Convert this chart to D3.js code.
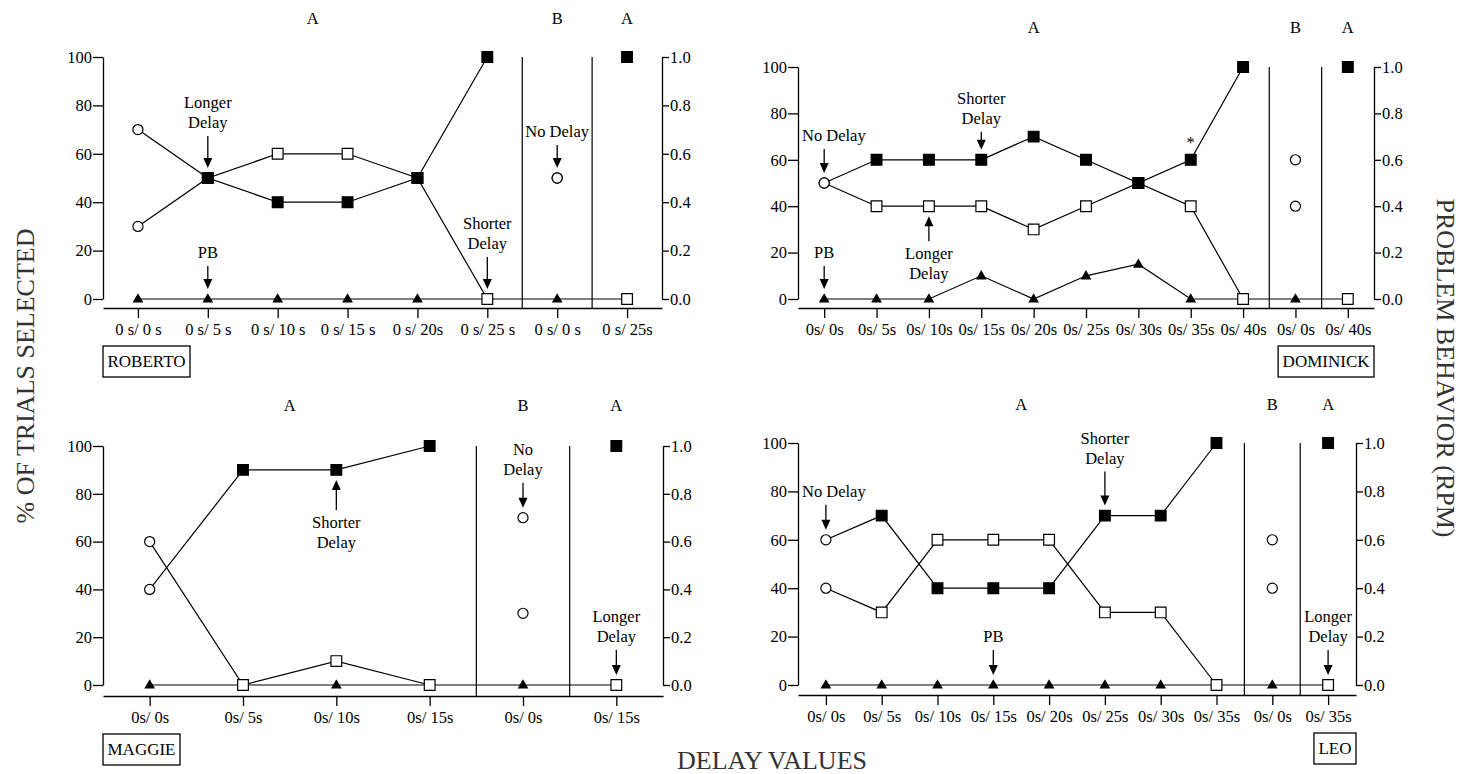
<!DOCTYPE html>
<html>
<head>
<meta charset="utf-8">
<script src="https://cdn.jsdelivr.net/npm/d3@7"></script>
<style>
  html, body { margin: 0; padding: 0; background: #fff; }
  svg { display: block; font-family: "Liberation Serif", "Times New Roman", serif; }
</style>
</head>
<body>
<svg id="chart" width="1465" height="774"></svg>
<script>
// ---- Roberto ----
const robertoDelays  = ["0 s/ 0 s", "0 s/ 5 s", "0 s/ 10 s", "0 s/ 15 s", "0 s/ 20s", "0 s/ 25 s", "0 s/ 0 s", "0 s/ 25s"];
const robertoPhases  = ["A", "A", "A", "A", "A", "A", "B", "A"];
const robertoShorter = [30, 50, 40, 40, 50, 100, 50, 100];
const robertoLonger  = [70, 50, 60, 60, 50, 0, 50, 0];
const robertoPB      = [0, 0, 0, 0, 0, 0, 0, 0];

// ---- Dominick ----
const dominickDelays  = ["0s/ 0s", "0s/ 5s", "0s/ 10s", "0s/ 15s", "0s/ 20s", "0s/ 25s", "0s/ 30s", "0s/ 35s", "0s/ 40s", "0s/ 0s", "0s/ 40s"];
const dominickPhases  = ["A", "A", "A", "A", "A", "A", "A", "A", "A", "B", "A"];
const dominickShorter = [50, 60, 60, 60, 70, 60, 50, 60, 100, 60, 100];
const dominickLonger  = [50, 40, 40, 40, 30, 40, 50, 40, 0, 40, 0];
const dominickPB      = [0, 0, 0, 0.1, 0, 0.1, 0.15, 0, 0, 0, 0];

// ---- Maggie ----
const maggieDelays  = ["0s/ 0s", "0s/ 5s", "0s/ 10s", "0s/ 15s", "0s/ 0s", "0s/ 15s"];
const maggiePhases  = ["A", "A", "A", "A", "B", "A"];
const maggieShorter = [40, 90, 90, 100, 70, 100];
const maggieLonger  = [60, 0, 10, 0, 30, 0];
const maggiePB      = [0, 0, 0, 0, 0, 0];

// ---- Leo ----
const leoDelays  = ["0s/ 0s", "0s/ 5s", "0s/ 10s", "0s/ 15s", "0s/ 20s", "0s/ 25s", "0s/ 30s", "0s/ 35s", "0s/ 0s", "0s/ 35s"];
const leoPhases  = ["A", "A", "A", "A", "A", "A", "A", "A", "B", "A"];
const leoShorter = [60, 70, 40, 40, 40, 70, 70, 100, 60, 100];
const leoLonger  = [40, 30, 60, 60, 60, 30, 30, 0, 40, 0];
const leoPB      = [0, 0, 0, 0, 0, 0, 0, 0, 0, 0];

// Callouts: category index, the % value they point at, arrow direction and arrow length
const robertoNotes = [
  { lines: ["Longer", "Delay"], at: 1, value: 50, dir: "down", arrow: 32 },
  { lines: ["PB"], at: 1, value: 0, dir: "down", arrow: 23 },
  { lines: ["Shorter", "Delay"], at: 5, value: 0, dir: "down", arrow: 32 },
  { lines: ["No Delay"], at: 6, value: 50, dir: "down", arrow: 23 }
];
const dominickNotes = [
  { lines: ["No Delay"], at: 0, value: 50, dir: "down", arrow: 24 },
  { lines: ["Shorter", "Delay"], at: 3, value: 60, dir: "down", arrow: 18 },
  { lines: ["Longer", "Delay"], at: 2, value: 40, dir: "up", arrow: 25 },
  { lines: ["PB"], at: 0, value: 0, dir: "down", arrow: 23 },
  { lines: ["*"], at: 7, value: 60, dir: "down", arrow: 0 }
];
const maggieNotes = [
  { lines: ["Shorter", "Delay"], at: 2, value: 90, dir: "up", arrow: 30 },
  { lines: ["No", "Delay"], at: 4, value: 70, dir: "down", arrow: 25 },
  { lines: ["Longer", "Delay"], at: 5, value: 0, dir: "down", arrow: 25 }
];
const leoNotes = [
  { lines: ["No Delay"], at: 0, value: 60, dir: "down", arrow: 25 },
  { lines: ["Shorter", "Delay"], at: 5, value: 70, dir: "down", arrow: 34 },
  { lines: ["PB"], at: 3, value: 0, dir: "down", arrow: 25 },
  { lines: ["Longer", "Delay"], at: 9, value: 0, dir: "down", arrow: 25 }
];

const pctTicks = [0, 20, 40, 60, 80, 100];
const rateTicks = [0, 0.2, 0.4, 0.6, 0.8, 1.0];

// ---- layout of the four panels ----
const panels = [
  { name: "ROBERTO", delays: robertoDelays, phases: robertoPhases, shorter: robertoShorter, longer: robertoLonger, pb: robertoPB, notes: robertoNotes,
    left: 103, right: 662, top: 57, zero: 299, axisY: 308, phaseY: 24, box: "left" },
  { name: "DOMINICK", delays: dominickDelays, phases: dominickPhases, shorter: dominickShorter, longer: dominickLonger, pb: dominickPB, notes: dominickNotes,
    left: 798, right: 1374, top: 67, zero: 299, axisY: 308, phaseY: 33, box: "right" },
  { name: "MAGGIE", delays: maggieDelays, phases: maggiePhases, shorter: maggieShorter, longer: maggieLonger, pb: maggiePB, notes: maggieNotes,
    left: 103, right: 663, top: 446, zero: 685, axisY: 696, phaseY: 411, box: "left" },
  { name: "LEO", delays: leoDelays, phases: leoPhases, shorter: leoShorter, longer: leoLonger, pb: leoPB, notes: leoNotes,
    left: 798, right: 1356, top: 443, zero: 685, axisY: 695, phaseY: 410, box: "right" }
];

const FONT = 16.5;
const svg = d3.select("#chart");

const sym = {
  square: d3.symbol().type(d3.symbolSquare).size(115),
  circle: d3.symbol().type(d3.symbolCircle).size(80),
  tri: d3.symbol().type(d3.symbolTriangle).size(50)
};

// both choices equal (no delay on either) -> drawn as open circles
const isEqualDelay = label => label.replace(/\s/g, "") === "0s/0s";

function drawPanel(p) {
  const n = p.delays.length;
  const idx = d3.range(n);
  const x = d3.scalePoint().domain(idx).range([p.left, p.right]).padding(0.5);
  const y = d3.scaleLinear().domain([0, 100]).range([p.zero, p.top]);
  const yR = d3.scaleLinear().domain([0, 1]).range([p.zero, p.top]);
  const step = x.step();

  const g = svg.append("g");

  // phase groups (consecutive runs of the same phase)
  const groups = [];
  idx.forEach(i => {
    const last = groups[groups.length - 1];
    if (last && last.label === p.phases[i]) last.items.push(i);
    else groups.push({ label: p.phases[i], items: [i] });
  });

  // phase labels
  g.selectAll("text.phase").data(groups).enter().append("text")
    .attr("class", "phase")
    .attr("x", d => d3.mean(d.items, i => x(i)))
    .attr("y", p.phaseY)
    .attr("text-anchor", "middle")
    .attr("font-size", FONT)
    .text(d => d.label);

  // phase change lines
  g.selectAll("line.phase-line").data(groups.slice(1)).enter().append("line")
    .attr("class", "phase-line")
    .attr("x1", d => x(d.items[0]) - step / 2)
    .attr("x2", d => x(d.items[0]) - step / 2)
    .attr("y1", p.top).attr("y2", p.axisY)
    .attr("stroke", "#000").attr("stroke-width", 1.2);

  // left axis (% of trials)
  const axL = g.append("g").attr("transform", `translate(${p.left},0)`)
    .call(d3.axisLeft(y).tickValues(pctTicks).tickSize(10).tickSizeOuter(0).tickPadding(1));
  // right axis (responses per minute)
  const axR = g.append("g").attr("transform", `translate(${p.right},0)`)
    .call(d3.axisRight(yR).tickValues(rateTicks).tickSize(7).tickSizeOuter(0).tickPadding(1).tickFormat(d3.format(".1f")));
  // bottom axis (delay values)
  const axB = g.append("g").attr("transform", `translate(0,${p.axisY})`)
    .call(d3.axisBottom(x).tickSize(10).tickSizeOuter(0).tickPadding(5).tickFormat(i => p.delays[i]));

  [axL, axR, axB].forEach(a => {
    a.attr("font-family", null).attr("font-size", FONT);
    a.selectAll("path.domain, .tick line").attr("stroke", "#000").attr("stroke-width", 1.3);
    a.selectAll("text").attr("fill", "#000");
  });

  const line = d3.line().x(d => x(d.i)).y(d => y(d.v));

  // choice lines, broken at phase changes
  groups.forEach(gr => {
    if (gr.items.length < 2) return;
    [p.longer, p.shorter].forEach(series => {
      g.append("path")
        .attr("d", line(gr.items.map(i => ({ i, v: series[i] }))))
        .attr("fill", "none").attr("stroke", "#000").attr("stroke-width", 1.2);
    });
  });

  // problem behaviour line, continuous
  g.append("path")
    .attr("d", d3.line().x(i => x(i)).y(i => yR(p.pb[i]))(idx))
    .attr("fill", "none").attr("stroke", "#000").attr("stroke-width", 1.2);

  // triangles (problem behaviour)
  g.selectAll("path.pb").data(idx).enter().append("path")
    .attr("class", "pb")
    .attr("transform", i => `translate(${x(i)},${yR(p.pb[i]) + 0.5})`)
    .attr("d", sym.tri()).attr("fill", "#000");

  // open markers (longer delay)
  g.selectAll("path.longer").data(idx).enter().append("path")
    .attr("class", "longer")
    .attr("transform", i => `translate(${x(i)},${y(p.longer[i])})`)
    .attr("d", i => isEqualDelay(p.delays[i]) ? sym.circle() : sym.square())
    .attr("fill", "#fff").attr("stroke", "#000").attr("stroke-width", 1.2);

  // filled markers (shorter delay)
  g.selectAll("path.shorter").data(idx).enter().append("path")
    .attr("class", "shorter")
    .attr("transform", i => `translate(${x(i)},${y(p.shorter[i])})`)
    .attr("d", i => isEqualDelay(p.delays[i]) ? sym.circle() : sym.square())
    .attr("fill", i => isEqualDelay(p.delays[i]) ? "#fff" : "#000")
    .attr("stroke", "#000").attr("stroke-width", 1.2);

  // callouts
  p.notes.forEach(nt => {
    const cx = x(nt.at);
    const my = y(nt.value);
    const down = nt.dir === "down";
    const tip = down ? my - 10 : my + 10;
    const tail = down ? tip - nt.arrow : tip + nt.arrow;
    if (nt.arrow > 0) {
      const head = down ? -10 : 10;
      g.append("line")
        .attr("x1", cx).attr("x2", cx).attr("y1", tail).attr("y2", tip + head * 0.6)
        .attr("stroke", "#000").attr("stroke-width", 1.3);
      g.append("path")
        .attr("d", `M${cx},${tip}L${cx - 4.5},${tip + head}L${cx + 4.5},${tip + head}Z`)
        .attr("fill", "#000");
    }
    const t = g.append("text").attr("text-anchor", "middle").attr("font-size", FONT);
    const nLines = nt.lines.length;
    nt.lines.forEach((s, k) => {
      let base;
      if (nt.arrow === 0) base = my - 12;
      else if (down) base = tail - 8 - (nLines - 1 - k) * 20;
      else base = tail + 18 + k * 20;
      t.append("tspan").attr("x", cx).attr("y", base).text(s);
    });
    // keep callout text clear of the left axis
    const bb = t.node().getBBox();
    if (bb.x < p.left + 4) {
      const dx = p.left + 4 - bb.x;
      t.selectAll("tspan").attr("x", cx + dx);
    }
  });

  // participant name box
  const nameText = g.append("text")
    .attr("font-size", 17)
    .attr("y", p.axisY + 38 + 21)
    .text(p.name);
  const w = nameText.node().getComputedTextLength() + 9;
  const bx = p.box === "left" ? p.left : p.right - w;
  nameText.attr("x", bx + 4.5);
  g.append("rect")
    .attr("x", bx).attr("y", p.axisY + 38)
    .attr("width", w).attr("height", 31)
    .attr("fill", "none").attr("stroke", "#000").attr("stroke-width", 1.3);
}

panels.forEach(drawPanel);

// shared axis titles
svg.append("text")
  .attr("transform", "translate(34,376) rotate(-90)")
  .attr("text-anchor", "middle").attr("font-size", 26).attr("fill", "#333")
  .text("% OF TRIALS SELECTED");
svg.append("text")
  .attr("transform", "translate(1437,368) rotate(90)")
  .attr("text-anchor", "middle").attr("font-size", 26).attr("fill", "#333")
  .text("PROBLEM BEHAVIOR (RPM)");
svg.append("text")
  .attr("x", 772).attr("y", 769)
  .attr("text-anchor", "middle").attr("font-size", 26).attr("fill", "#333")
  .text("DELAY VALUES");
</script>
</body>
</html>
